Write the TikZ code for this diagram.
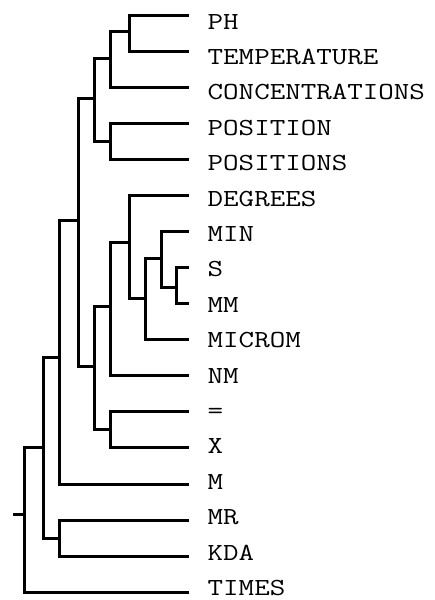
\documentclass[tikz,border=0pt]{standalone}
\usepackage{fontspec}
\begin{document}
\begin{tikzpicture}[x=1pt,y=-1pt,
  link/.style={line width=3pt, line join=miter, line cap=butt},
  leaf/.style={anchor=base west, inner sep=0pt, text depth=0pt, font=\fontsize{24.5}{28}\selectfont\ttfamily}]
\useasboundingbox (0,0) rectangle (434,600);
% leaves: line ends and labels
\foreach \i/\name in {0/PH,1/TEMPERATURE,2/CONCENTRATIONS,3/POSITION,4/POSITIONS,5/DEGREES,6/MIN,7/S,8/MM,9/MICROM,10/NM,11/{=},12/X,13/M,14/MR,15/KDA,16/TIMES}{
  \coordinate (l\i) at (189, {15+36.08*\i});
  \node[leaf] (t\i) at (207.5, {29+35.4*\i}) {\scalebox{1.23}[1]{\name}};
}
% internal nodes
\coordinate (pt) at (129,31.7);
\coordinate (g) at (110,58.3);
\coordinate (h) at (110,141.7);
\coordinate (e) at (94.7,98.3);
\coordinate (o) at (176.7,287);
\coordinate (n) at (161,258.3);
\coordinate (lm) at (145,298.3);
\coordinate (k) at (129,242);
\coordinate (i) at (110,306.7);
\coordinate (j) at (110,429.3);
\coordinate (f) at (94.7,366);
\coordinate (d) at (78.3,220.7);
\coordinate (b) at (59.3,357.3);
\coordinate (c) at (59.3,538.3);
\coordinate (a) at (43.3,447.7);
\coordinate (r) at (24.3,514);
\coordinate (stub) at (13.3,514);
% links
\draw[link] (l0) -| (pt) |- (l1);
\draw[link] (pt) -| (g) |- (l2);
\draw[link] (l3) -| (h) |- (l4);
\draw[link] (g) -| (e) |- (h);
\draw[link] (l7) -| (o) |- (l8);
\draw[link] (l6) -| (n) |- (o);
\draw[link] (n) -| (lm) |- (l9);
\draw[link] (l5) -| (k) |- (lm);
\draw[link] (k) -| (i) |- (l10);
\draw[link] (l11) -| (j) |- (l12);
\draw[link] (i) -| (f) |- (j);
\draw[link] (e) -| (d) |- (f);
\draw[link] (d) -| (b) |- (l13);
\draw[link] (l14) -| (c) |- (l15);
\draw[link] (b) -| (a) |- (c);
\draw[link] (a) -| (r) |- (l16);
\draw[link] (stub) -- (r);
\end{tikzpicture}
\end{document}
